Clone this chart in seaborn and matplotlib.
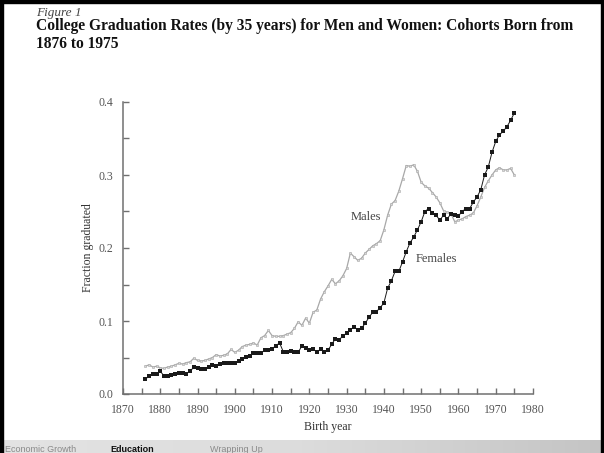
import numpy as np
import pandas as pd
import matplotlib
matplotlib.use('Agg')
import matplotlib.pyplot as plt
from matplotlib.patches import Rectangle
from matplotlib.ticker import MultipleLocator, FormatStrFormatter
import seaborn as sns

# values (fraction graduated by age 35)
years = list(range(1876, 1976))
males = [0.038, 0.040, 0.037, 0.038, 0.036, 0.035, 0.037, 0.038, 0.040, 0.042,
         0.041, 0.043, 0.044, 0.049, 0.046, 0.045, 0.046, 0.048, 0.050, 0.054,
         0.052, 0.053, 0.055, 0.061, 0.057, 0.060, 0.065, 0.067, 0.068, 0.070,
         0.067, 0.077, 0.080, 0.087, 0.080, 0.079, 0.079, 0.080, 0.082, 0.084,
         0.090, 0.099, 0.094, 0.104, 0.097, 0.112, 0.115, 0.130, 0.140, 0.148,
         0.157, 0.151, 0.155, 0.162, 0.172, 0.193, 0.188, 0.183, 0.186, 0.193,
         0.198, 0.203, 0.206, 0.210, 0.225, 0.245, 0.260, 0.265, 0.278, 0.295,
         0.313, 0.312, 0.314, 0.305, 0.290, 0.285, 0.282, 0.276, 0.270, 0.262,
         0.251, 0.249, 0.247, 0.236, 0.238, 0.240, 0.243, 0.245, 0.248, 0.258,
         0.270, 0.283, 0.292, 0.300, 0.307, 0.310, 0.307, 0.307, 0.309, 0.300]
females = [0.020, 0.025, 0.027, 0.027, 0.031, 0.025, 0.024, 0.026, 0.028, 0.029,
           0.029, 0.028, 0.031, 0.037, 0.036, 0.034, 0.034, 0.037, 0.040, 0.038,
           0.041, 0.042, 0.042, 0.043, 0.043, 0.045, 0.048, 0.051, 0.052, 0.056,
           0.056, 0.056, 0.060, 0.060, 0.062, 0.066, 0.070, 0.058, 0.058, 0.059,
           0.058, 0.057, 0.066, 0.063, 0.060, 0.061, 0.058, 0.061, 0.058, 0.060,
           0.068, 0.076, 0.074, 0.080, 0.083, 0.088, 0.092, 0.088, 0.090, 0.097,
           0.105, 0.112, 0.113, 0.118, 0.125, 0.145, 0.155, 0.168, 0.168, 0.181,
           0.195, 0.207, 0.215, 0.225, 0.236, 0.250, 0.254, 0.248, 0.245, 0.238,
           0.245, 0.240, 0.247, 0.245, 0.244, 0.250, 0.254, 0.254, 0.263, 0.270,
           0.280, 0.300, 0.311, 0.331, 0.346, 0.355, 0.360, 0.366, 0.375, 0.385]

fig_tag = 'Figure 1'
title_lines = ['College Graduation Rates (by 35 years) for Men and Women: Cohorts Born from',
               '1876 to 1975']
nav_items = ['Economic Growth', 'Education', 'Wrapping Up']

df = pd.DataFrame({'Birth year': years, 'Males': males, 'Females': females})

sns.set_style('ticks')
plt.rcParams['font.family'] = ['Liberation Serif', 'DejaVu Serif']

fig = plt.figure(figsize=(6.04, 4.53), dpi=100)
fig.patch.set_facecolor('white')

ax = fig.add_axes([123 / 604, 59 / 453, 410 / 604, 292 / 453])
sns.lineplot(data=df, x='Birth year', y='Males', ax=ax, color='#a8a8a8', lw=0.9,
             marker='s', markersize=1.5, markerfacecolor='#d8d8d8',
             markeredgecolor='#a8a8a8', markeredgewidth=0.4)
sns.lineplot(data=df, x='Birth year', y='Females', ax=ax, color='#1a1a1a', lw=0.7,
             marker='s', markersize=3, markeredgewidth=0)

ax.set_xlim(1870, 1980)
ax.set_ylim(0, 0.4)
ax.xaxis.set_major_locator(MultipleLocator(10))
ax.xaxis.set_minor_locator(MultipleLocator(5))
ax.yaxis.set_major_locator(MultipleLocator(0.1))
ax.yaxis.set_minor_locator(MultipleLocator(0.05))
ax.yaxis.set_major_formatter(FormatStrFormatter('%.1f'))
for s in ['top', 'right']:
    ax.spines[s].set_visible(False)
for s in ['left', 'bottom']:
    ax.spines[s].set_color('#707070')
    ax.spines[s].set_linewidth(1.1)
ax.tick_params(which='both', direction='in', length=4, width=1, color='#707070',
               labelsize=8.5, labelcolor='#555555', pad=7)
ax.set_xlabel('Birth year', fontsize=8.5, color='#333333', labelpad=4)
ax.set_ylabel('Fraction graduated', fontsize=8.5, color='#333333', labelpad=3)

ax.text(1935.1, 0.2425, 'Males', ha='center', va='center', fontsize=9, color='#444444')
ax.text(1954.0, 0.185, 'Females', ha='center', va='center', fontsize=9, color='#444444')

fig.text(36 / 604, 1 - 13 / 453, fig_tag, ha='left', va='center', fontsize=9.5,
         style='italic', color='#444444')
fig.text(36 / 604, 1 - 26 / 453, title_lines[0], ha='left', va='center', fontsize=11.2,
         fontweight='bold', color='#111111')
fig.text(36 / 604, 1 - 44 / 453, title_lines[1], ha='left', va='center', fontsize=11.2,
         fontweight='bold', color='#111111')

# bottom navigation bar
nav = fig.add_axes([0, 0, 1, 13 / 453])
grad = np.linspace(0, 1, 256).reshape(1, -1)
nav.imshow(grad, aspect='auto', cmap=matplotlib.colors.LinearSegmentedColormap.from_list(
    'nav', ['#e3e3e3', '#dcdcdc', '#c4c4c4']), extent=[0, 1, 0, 1])
nav.set_axis_off()
nav_x = [5 / 604, 110 / 604, 210 / 604]
for label, x in zip(nav_items, nav_x):
    bold = label == 'Education'
    fig.text(x, 4 / 453, label, ha='left', va='center', fontsize=6.5,
             family=['Liberation Sans', 'DejaVu Sans'],
             fontweight='bold' if bold else 'normal',
             color='#111111' if bold else '#8a8a8a')

# black frame of the screenshot
for r in [(0, 0, 3 / 604, 1), (0, 1 - 3 / 453, 1, 3 / 453), (1 - 3 / 604, 0, 3 / 604, 1)]:
    fig.add_artist(Rectangle(r[:2], r[2], r[3], transform=fig.transFigure,
                             color='black', zorder=10))

fig.savefig('out.png', dpi=100)
